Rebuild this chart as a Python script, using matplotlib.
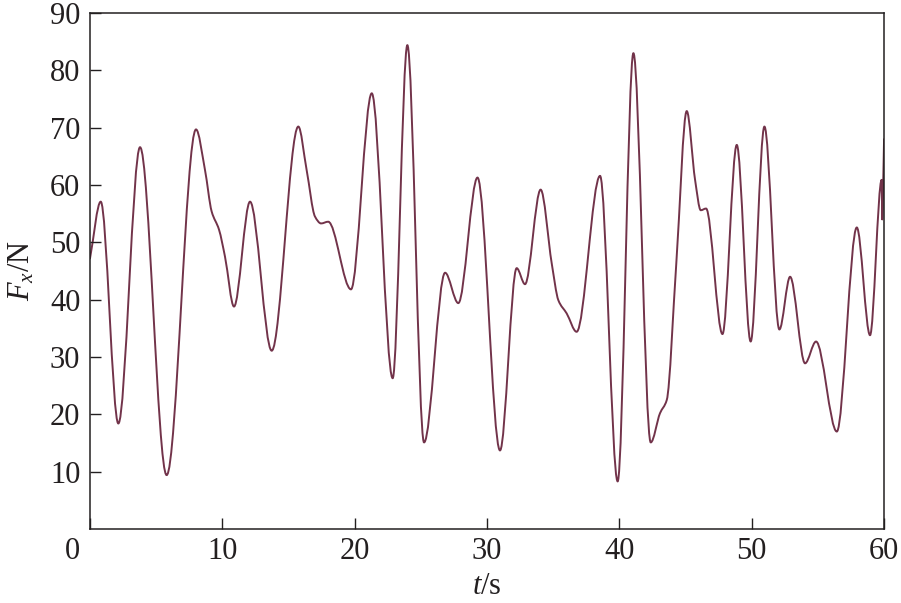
import numpy as np
import matplotlib
matplotlib.use("Agg")
import matplotlib.pyplot as plt
from matplotlib.path import Path
from matplotlib.patches import PathPatch
from matplotlib.transforms import ScaledTranslation

# values (extrema and shoulders of the force trace)
t = [0.0, 0.81, 2.14, 3.78, 5.79, 8.01, 8.69, 9.19, 9.75, 10.2, 10.88,
     12.09, 13.73, 15.74, 16.37, 17.0, 17.46, 18.0, 19.72, 21.29, 22.87,
     23.98, 25.24, 26.83, 27.83, 29.28, 30.98, 32.24, 32.87, 34.05, 34.89,
     35.39, 36.02, 36.77, 38.54, 39.87, 41.06, 42.37, 43.07, 43.58, 44.3,
     45.09, 45.72, 46.15, 46.55, 47.79, 48.87, 49.92, 50.96, 52.09, 52.9,
     54.03, 54.86, 56.43, 57.94, 58.94, 59.82, 59.86, 59.94, 60.0]
Fx = [47.2, 57.1, 18.4, 66.6, 9.4, 69.7, 62.6, 55.4, 52.2, 47.5, 38.8,
      57.1, 31.1, 70.2, 62.6, 54.5, 53.3, 53.6, 41.8, 76.0, 26.3,
      84.4, 15.1, 44.7, 39.4, 61.3, 13.7, 45.5, 42.7, 59.2, 46.3,
      39.9, 37.6, 34.4, 61.6, 8.3, 83.0, 15.1, 20.2, 22.5, 46.3,
      72.9, 60.9, 55.6, 55.9, 34.0, 67.0, 32.7, 70.2, 34.8, 44.0,
      28.9, 32.7, 17.0, 52.6, 33.8, 60.9, 54.0, 61.0, 68.0]

xticks = [0, 10, 20, 30, 40, 50, 60]
yticks = [10, 20, 30, 40, 50, 60, 70, 80, 90]

LINE = '#72334a'
INK = '#231f20'

plt.rcParams['font.family'] = 'Liberation Serif'
plt.rcParams['mathtext.fontset'] = 'custom'
plt.rcParams['mathtext.rm'] = 'Liberation Serif'
plt.rcParams['mathtext.it'] = 'Liberation Serif:italic'


def smooth_path(x, y):
    # monotone cubic (Fritsch-Carlson) tangents -> bezier control handles
    x = np.asarray(x, float)
    y = np.asarray(y, float)
    h = np.diff(x)
    d = np.diff(y) / h
    m = np.zeros_like(y)
    for i in range(1, len(y) - 1):
        if d[i - 1] * d[i] > 0:
            w1 = 2 * h[i] + h[i - 1]
            w2 = h[i] + 2 * h[i - 1]
            m[i] = (w1 + w2) / (w1 / d[i - 1] + w2 / d[i])
    m[0] = d[0]
    m[-1] = d[-1]
    verts = [(x[0], y[0])]
    codes = [Path.MOVETO]
    for i in range(len(x) - 1):
        verts += [(x[i] + h[i] / 3, y[i] + m[i] * h[i] / 3),
                  (x[i + 1] - h[i] / 3, y[i + 1] - m[i + 1] * h[i] / 3),
                  (x[i + 1], y[i + 1])]
        codes += [Path.CURVE4] * 3
    return Path(verts, codes)


fig = plt.figure(figsize=(9.01, 6.03), dpi=100)
ax = fig.add_axes([0.0999, 0.1227, 0.8813, 0.8557])

patch = PathPatch(smooth_path(t, Fx), fill=False, edgecolor=LINE, lw=1.4,
                  capstyle='round', joinstyle='round')
ax.add_patch(patch)

ax.set_xlim(0, 60)
ax.set_ylim(0, 90)
ax.set_xticks(xticks)
ax.set_yticks(yticks)
ax.xaxis.set_minor_locator(plt.NullLocator())

for s in ax.spines.values():
    s.set_color(INK)
    s.set_linewidth(1.1)

ax.tick_params(axis='both', direction='in', length=8, width=1.0,
               color=INK, labelcolor=INK, labelsize=22)
ax.tick_params(axis='y', pad=7)
ax.tick_params(axis='x', pad=6)

# origin label sits left of the corner in the reference
lab0 = ax.get_xticklabels()[0]
lab0.set_transform(lab0.get_transform() + ScaledTranslation(-0.18, 0, fig.dpi_scale_trans))

ax.set_xlabel(r'$t$/s', fontsize=22, color=INK, labelpad=4)
ax.set_ylabel(r'$F_x$/N', fontsize=22, color=INK, labelpad=10)

fig.savefig('out.png', dpi=100)
